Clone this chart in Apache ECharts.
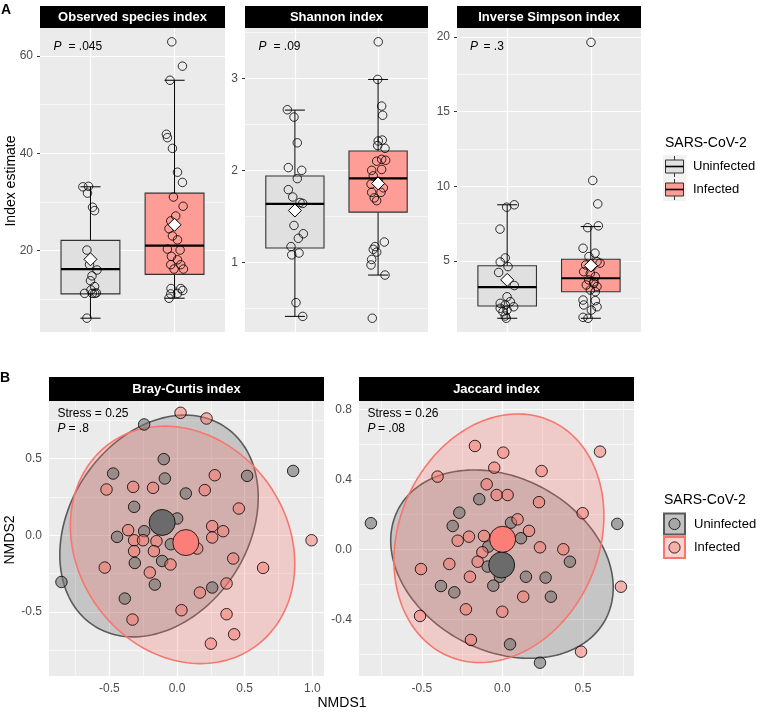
<!DOCTYPE html>
<html>
<head>
<meta charset="utf-8">
<script src="https://cdn.jsdelivr.net/npm/echarts@6/dist/echarts.min.js"></script>
<style>html,body{margin:0;padding:0;background:#ffffff;}#chart{width:757px;height:713px;}</style>
</head>
<body>
<div id="chart"></div>
<script>
// ================= DATA =================
const groupNames = ['Uninfected', 'Infected'];
const legendTitle = 'SARS-CoV-2';
const alphaTitles = ['Observed species index', 'Shannon index', 'Inverse Simpson index'];
const alphaP = ['.045', '.09', '.3'];
const betaTitles = ['Bray-Curtis index', 'Jaccard index'];
const betaStress = ['0.25', '0.26'];
const betaP = ['.8', '.08'];

// axis ranges and ticks (panel A)
const groupXRange = [0.4, 2.6];
const groupX = [1, 2];
const obsRange = [3.26, 65.74];
const obsTicks = [20, 40, 60];
const obsMinor = [10, 30, 50];
const shanRange = [0.24, 3.55];
const shanTicks = [1, 2, 3];
const shanMinor = [0.5, 1.5, 2.5, 3.5];
const invRange = [0.24, 20.6];
const invTicks = [5, 10, 15, 20];
const invMinor = [2.5, 7.5, 12.5, 17.5];

// box stats: [x, lower whisker, Q1, median, Q3, upper whisker]
const obsBox = [[1, 6.1, 11.1, 16.2, 22.1, 33.1], [2, 10.2, 15.1, 21.0, 31.8, 55.0]];
const shanBox = [[1, 0.41, 1.155, 1.636, 1.938, 2.656], [2, 0.86, 1.545, 1.913, 2.211, 2.99]];
const invBox = [[1, 1.16, 1.98, 3.24, 4.68, 8.76], [2, 1.16, 2.94, 3.84, 5.11, 7.30]];
// group means
const obsMean = [[1, 18.2], [2, 25.3]];
const shanMean = [[1, 1.563], [2, 1.858]];
const invMean = [[1, 3.73], [2, 4.69]];

// jittered sample points [x, value]
const obsUninf = [[0.91,33.1],[0.977,33.2],[0.965,31.8],[1.025,28.9],[1.049,28.2],[0.958,20.1],[0.989,17.1],[1.078,16.0],[1.018,14.8],[1.0,13.8],[1.049,12.6],[1.006,11.9],[0.93,11.2],[1.022,11.2],[1.051,11.2],[1.07,11.3],[0.958,6.1]];
const obsInf = [[1.967,62.9],[2.094,57.9],[1.946,55.0],[1.903,43.9],[1.915,43.2],[1.975,41.0],[2.035,36.1],[2.094,34.0],[1.987,31.0],[2.102,29.1],[2.014,27.1],[1.955,26.1],[1.934,24.5],[1.975,23.0],[2.035,22.2],[1.915,20.3],[2.066,20.1],[1.963,18.8],[2.035,18.1],[1.955,17.1],[2.074,17.1],[2.106,16.2],[1.994,16.2],[1.958,12.2],[2.074,12.2],[2.098,11.8],[2.035,11.2],[1.955,11.1],[1.934,10.2]];
const shanUninf = [[0.909,2.66],[0.989,2.58],[1.029,2.30],[0.921,2.03],[1.082,2.00],[1.029,1.91],[0.921,1.79],[0.974,1.71],[1.061,1.65],[1.094,1.64],[0.989,1.40],[1.101,1.31],[1.041,1.26],[0.953,1.17],[0.962,1.08],[1.049,1.10],[1.013,0.56],[1.094,0.41]];
const shanInf = [[2.002,3.40],[1.995,2.99],[2.043,2.70],[2.055,2.60],[2.002,2.32],[2.05,2.33],[2.083,2.24],[1.995,2.27],[2.043,2.12],[2.091,2.11],[1.983,2.10],[1.923,2.00],[2.043,2.01],[1.942,1.94],[1.915,1.85],[2.035,1.76],[1.923,1.76],[1.983,1.67],[2.063,1.81],[2.002,1.88],[1.954,1.70],[2.075,1.22],[1.963,1.17],[1.942,1.14],[1.983,1.11],[1.923,1.03],[1.915,0.97],[2.083,0.86],[1.93,0.39]];
const invUninf = [[0.994,8.60],[1.085,8.76],[0.914,7.13],[0.977,5.20],[0.917,4.93],[1.01,4.62],[0.898,4.23],[1.085,3.35],[0.998,2.60],[1.037,2.27],[0.917,2.16],[0.977,2.05],[1.078,1.93],[0.917,1.83],[0.998,1.71],[0.95,1.60],[0.977,1.31],[0.989,1.16]];
const invInf = [[2.002,19.64],[2.023,10.39],[2.083,8.82],[2.09,7.35],[1.963,7.23],[1.907,5.85],[2.05,5.52],[1.978,5.29],[2.074,4.95],[1.939,4.73],[2.014,4.62],[2.11,4.85],[1.915,4.28],[1.994,4.17],[2.054,3.95],[1.975,3.73],[2.035,3.50],[1.946,3.39],[2.074,3.28],[1.994,3.05],[2.054,2.94],[1.907,2.38],[2.054,2.34],[1.915,2.05],[2.074,1.93],[2.006,1.71],[1.907,1.22],[1.967,1.16],[2.038,3.60]];

// panel B axes
const bcXRange = [-0.946, 1.086];
const bcYRange = [-0.918, 0.875];
const bcXTicks = [-0.5, 0, 0.5, 1.0];
const bcXMinor = [-0.75, -0.25, 0.25, 0.75];
const bcYTicks = [-0.5, 0, 0.5];
const bcYMinor = [-0.75, -0.25, 0.25, 0.75];
const jacXRange = [-0.891, 0.817];
const jacYRange = [-0.724, 0.847];
const jacXTicks = [-0.5, 0, 0.5];
const jacXMinor = [-0.75, -0.25, 0.25, 0.75];
const jacYTicks = [-0.4, 0, 0.4, 0.8];
const jacYMinor = [-0.6, -0.2, 0.2, 0.6];

// NMDS scores [NMDS1, NMDS2]
const bcUninf = [[-0.243,0.722],[-0.098,0.496],[-0.472,0.402],[0.518,0.387],[0.858,0.419],[-0.09,0.37],[0.065,0.272],[-0.317,0.185],[0.001,0.109],[-0.243,0.026],[-0.443,-0.011],[-0.046,-0.059],[-0.11,-0.168],[-0.312,-0.181],[-0.854,-0.305],[-0.164,-0.322],[0.26,-0.341],[-0.386,-0.413]];
const bcInf = [[0.026,0.798],[0.218,0.761],[0.279,0.391],[-0.521,0.298],[-0.324,0.315],[-0.177,0.309],[0.205,0.294],[0.457,0.174],[0.994,-0.033],[-0.361,0.033],[0.26,0.059],[0.341,0.026],[0.26,-0.015],[-0.317,-0.033],[-0.251,-0.033],[-0.152,-0.039],[0.149,-0.087],[-0.317,-0.104],[-0.171,-0.104],[-0.048,-0.191],[-0.534,-0.211],[-0.201,-0.243],[0.415,-0.152],[0.636,-0.213],[0.366,-0.315],[0.169,-0.374],[0.033,-0.489],[0.366,-0.515],[-0.329,-0.55],[0.422,-0.646],[0.25,-0.707]];
const bcCentroids = [[-0.11, 0.083], [0.065, -0.048]];
const jacUninf = [[-0.144,0.286],[-0.817,0.149],[-0.268,0.209],[-0.309,0.133],[0.053,0.152],[0.115,0.063],[0.713,0.145],[-0.088,0.015],[0.419,-0.071],[-0.092,-0.099],[-0.016,-0.157],[0.146,-0.157],[0.268,-0.162],[-0.382,-0.21],[-0.299,-0.246],[-0.057,-0.208],[0.301,-0.271],[0.047,-0.543],[0.233,-0.648]];
const jacInf = [[-0.171,0.59],[0.005,0.552],[0.606,0.558],[-0.051,0.466],[0.243,0.447],[-0.403,0.415],[-0.098,0.371],[-0.036,0.31],[0.032,0.31],[0.227,0.269],[0.094,0.171],[0.165,0.105],[0.498,0.206],[-0.278,0.049],[-0.208,0.072],[-0.115,0.076],[0.233,0.011],[0.378,0.0],[-0.125,-0.017],[-0.154,-0.071],[-0.33,-0.084],[-0.506,-0.113],[-0.202,-0.157],[0.129,-0.271],[0.736,-0.214],[-0.512,-0.381],[-0.227,-0.343],[-0.001,-0.357],[-0.196,-0.518],[0.488,-0.585]];
const jacCentroids = [[-0.005, -0.09], [0.001, 0.057]];

// ellipses: [centre x, centre y, half-width x, half-height y, correlation]
const bcEllipses = [[-0.133, 0.06, 0.733, 0.723, 0.26], [0.041, -0.063, 0.829, 0.774, -0.16]];
const jacEllipses = [[-0.003, -0.085, 0.691, 0.538, -0.25], [-0.022, 0.063, 0.652, 0.71, 0.18]];

// ================= STYLE =================
const FONT = "'Liberation Sans', Arial, Helvetica, sans-serif";
const PANEL_BG = '#ebebeb';
const boxFills = ['#e0e0e0', '#fe9c96'];
const ellFill = ['rgba(85,85,85,0.25)', 'rgba(248,118,109,0.27)'];
const ellStroke = ['#5a5a5a', '#f8766d'];
const ptFill = ['rgba(115,115,115,0.6)', 'rgba(248,118,109,0.5)'];
const centFill = ['#6b6b6b', '#fb7f78'];

const gridsA = [
  {left: 40, top: 28, width: 185, height: 304},
  {left: 245, top: 28, width: 183, height: 304},
  {left: 457, top: 28, width: 184, height: 304}
];
const gridsB = [
  {left: 49, top: 401, width: 275, height: 275},
  {left: 359, top: 401, width: 275, height: 275}
];
const allGrids = gridsA.concat(gridsB).map(g => Object.assign({show: true, backgroundColor: PANEL_BG, borderWidth: 0, containLabel: false, z: 0}, g));

function valueAxis(gridIndex, range, ticks, showLabels, fmt) {
  return {
    type: 'value', gridIndex, min: range[0], max: range[1],
    axisLine: {show: false},
    axisTick: {show: showLabels, customValues: ticks, length: 3, lineStyle: {color: '#333333', width: 1}},
    axisLabel: {show: showLabels, customValues: ticks, formatter: fmt, color: '#4d4d4d', fontSize: 12, fontFamily: FONT, margin: 7},
    splitLine: {show: false}, minorTick: {show: false}, minorSplitLine: {show: false}
  };
}
const intFmt = v => String(v);
const decFmt = v => v.toFixed(1);

const xAxes = [
  valueAxis(0, groupXRange, groupX, false, intFmt),
  valueAxis(1, groupXRange, groupX, false, intFmt),
  valueAxis(2, groupXRange, groupX, false, intFmt),
  valueAxis(3, bcXRange, bcXTicks, true, decFmt),
  valueAxis(4, jacXRange, jacXTicks, true, decFmt)
];
const yAxes = [
  valueAxis(0, obsRange, obsTicks, true, intFmt),
  valueAxis(1, shanRange, shanTicks, true, intFmt),
  valueAxis(2, invRange, invTicks, true, intFmt),
  valueAxis(3, bcYRange, bcYTicks, true, decFmt),
  valueAxis(4, jacYRange, jacYTicks, true, decFmt)
];

// panel grid lines (white major / thin minor), drawn as markLines on the axes' own scales, below the marks
function gridLineSeries(ai, xMaj, xMin, yMaj, yMin) {
  const d = [];
  xMin.forEach(v => d.push({xAxis: v, lineStyle: {width: 0.6}}));
  yMin.forEach(v => d.push({yAxis: v, lineStyle: {width: 0.6}}));
  xMaj.forEach(v => d.push({xAxis: v, lineStyle: {width: 1.2}}));
  yMaj.forEach(v => d.push({yAxis: v, lineStyle: {width: 1.2}}));
  return {type: 'scatter', xAxisIndex: ai, yAxisIndex: ai, data: [], z: 1, silent: true,
    markLine: {z: 1, silent: true, symbol: ['none', 'none'], animation: false, precision: 6,
      label: {show: false}, emphasis: {disabled: true},
      lineStyle: {color: '#ffffff', type: 'solid', width: 1.2, opacity: 1}, data: d}};
}

const BOX_HALF = 0.35, CAP_HALF = 0.12;
function boxRender(params, api) {
  const x = api.value(0), lo = api.value(1), q1 = api.value(2), md = api.value(3), q3 = api.value(4), hi = api.value(5);
  const pLo = api.coord([x, lo]), pHi = api.coord([x, hi]);
  const c1 = api.coord([x - CAP_HALF, lo]), c2 = api.coord([x + CAP_HALF, lo]);
  const c3 = api.coord([x - CAP_HALF, hi]), c4 = api.coord([x + CAP_HALF, hi]);
  const tl = api.coord([x - BOX_HALF, q3]), br = api.coord([x + BOX_HALF, q1]);
  const m1 = api.coord([x - BOX_HALF, md]), m2 = api.coord([x + BOX_HALF, md]);
  const ls = {stroke: '#000', lineWidth: 1};
  return {type: 'group', children: [
    {type: 'line', shape: {x1: pLo[0], y1: pLo[1], x2: pHi[0], y2: pHi[1]}, style: ls},
    {type: 'line', shape: {x1: c1[0], y1: c1[1], x2: c2[0], y2: c2[1]}, style: ls},
    {type: 'line', shape: {x1: c3[0], y1: c3[1], x2: c4[0], y2: c4[1]}, style: ls},
    {type: 'rect', shape: {x: tl[0], y: tl[1], width: br[0] - tl[0], height: br[1] - tl[1]}, style: {fill: boxFills[params.dataIndex], stroke: '#333333', lineWidth: 1.1}},
    {type: 'line', shape: {x1: m1[0], y1: m1[1], x2: m2[0], y2: m2[1]}, style: {stroke: '#000', lineWidth: 2.2}}
  ]};
}
function ellRender(params, api) {
  const cx = api.value(0), cy = api.value(1), W = api.value(2), H = api.value(3), r = api.value(4);
  const d = Math.acos(r);
  const pts = [];
  for (let i = 0; i < 160; i++) {
    const t = i / 160 * Math.PI * 2;
    pts.push(api.coord([cx + W * Math.cos(t), cy + H * Math.cos(t - d)]));
  }
  return {type: 'polygon', shape: {points: pts}, style: {fill: ellFill[params.dataIndex], stroke: ellStroke[params.dataIndex], lineWidth: 1.6}};
}

const series = [];
series.push(gridLineSeries(0, groupX, [], obsTicks, obsMinor));
series.push(gridLineSeries(1, groupX, [], shanTicks, shanMinor));
series.push(gridLineSeries(2, groupX, [], invTicks, invMinor));
series.push(gridLineSeries(3, bcXTicks, bcXMinor, bcYTicks, bcYMinor));
series.push(gridLineSeries(4, jacXTicks, jacXMinor, jacYTicks, jacYMinor));

const panelsA = [
  {box: obsBox, mean: obsMean, pts: [obsUninf, obsInf]},
  {box: shanBox, mean: shanMean, pts: [shanUninf, shanInf]},
  {box: invBox, mean: invMean, pts: [invUninf, invInf]}
];
panelsA.forEach((p, i) => {
  series.push({type: 'custom', xAxisIndex: i, yAxisIndex: i, renderItem: boxRender, data: p.box,
    dimensions: ['x', 'lo', 'q1', 'md', 'q3', 'hi'], encode: {x: 0, y: [1, 2, 3, 4, 5]}, z: 2, silent: true});
  p.pts.forEach((pts) => {
    series.push({type: 'scatter', xAxisIndex: i, yAxisIndex: i, data: pts, symbol: 'circle', symbolSize: 8.5,
      itemStyle: {color: 'rgba(0,0,0,0)', borderColor: '#000', borderWidth: 0.8, opacity: 1}, z: 3, silent: true});
  });
  series.push({type: 'scatter', xAxisIndex: i, yAxisIndex: i, data: p.mean, symbol: 'diamond', symbolSize: 13,
    itemStyle: {color: '#ffffff', borderColor: '#000', borderWidth: 1, opacity: 1}, z: 4, silent: true});
});
const panelsB = [
  {ell: bcEllipses, pts: [bcUninf, bcInf], cent: bcCentroids},
  {ell: jacEllipses, pts: [jacUninf, jacInf], cent: jacCentroids}
];
panelsB.forEach((p, j) => {
  const ai = 3 + j;
  series.push({type: 'custom', xAxisIndex: ai, yAxisIndex: ai, renderItem: ellRender, data: p.ell,
    dimensions: ['cx', 'cy', 'w', 'h', 'r'], encode: {x: 0, y: 1}, z: 2, silent: true});
  p.pts.forEach((pts, g) => {
    series.push({type: 'scatter', xAxisIndex: ai, yAxisIndex: ai, data: pts, symbol: 'circle', symbolSize: 11.5,
      itemStyle: {color: ptFill[g], borderColor: '#000', borderWidth: 0.8, opacity: 1}, z: 3, silent: true});
  });
  p.cent.forEach((c, g) => {
    series.push({type: 'scatter', xAxisIndex: ai, yAxisIndex: ai, data: [c], symbol: 'circle', symbolSize: 26,
      itemStyle: {color: centFill[g], borderColor: '#000', borderWidth: 0.8, opacity: 1}, z: 4, silent: true});
  });
});

// ================= ANNOTATIONS / LEGENDS =================
function txt(x, y, text, o) {
  const s = Object.assign({text: text, fill: '#000', fontSize: 12, fontFamily: FONT, fontWeight: 'normal', fontStyle: 'normal',
    align: 'left', verticalAlign: 'middle'}, o || {});
  s.textAlign = s.align; s.textVerticalAlign = s.verticalAlign;
  return {type: 'text', x: x, y: y, z: 100, silent: true, style: s};
}
const g = [];
gridsA.forEach((gr, i) => {
  g.push({type: 'rect', z: 100, silent: true, shape: {x: gr.left, y: 6, width: gr.width, height: 22}, style: {fill: '#000'}});
  g.push(txt(gr.left + gr.width / 2, 17.5, alphaTitles[i], {fill: '#fff', fontWeight: 'bold', fontSize: 13, align: 'center'}));
});
gridsB.forEach((gr, i) => {
  g.push({type: 'rect', z: 100, silent: true, shape: {x: gr.left, y: 377, width: gr.width, height: 24}, style: {fill: '#000'}});
  g.push(txt(gr.left + gr.width / 2, 389.5, betaTitles[i], {fill: '#fff', fontWeight: 'bold', fontSize: 13, align: 'center'}));
});
const pPosA = [[53.5, 68.5, 47], [258.5, 273.5, 46.5], [470, 483.5, 47]];
pPosA.forEach((p, i) => {
  g.push(txt(p[0], p[2], 'P', {fontStyle: 'italic'}));
  g.push(txt(p[1], p[2], '= ' + alphaP[i]));
});
const sPosB = [[57.5, 68.5], [367.5, 378]];
sPosB.forEach((p, i) => {
  g.push(txt(p[0], 413.5, 'Stress = ' + betaStress[i]));
  g.push(txt(p[0], 428.5, 'P', {fontStyle: 'italic'}));
  g.push(txt(p[1], 428.5, '= ' + betaP[i]));
});
g.push(Object.assign(txt(11, 181, 'Index estimate', {fontSize: 14, align: 'center'}), {rotation: Math.PI / 2}));
g.push(Object.assign(txt(10, 540, 'NMDS2', {fontSize: 14, align: 'center'}), {rotation: Math.PI / 2}));
g.push(txt(342, 703, 'NMDS1', {fontSize: 14, align: 'center'}));
g.push(txt(1, 10, 'A', {fontSize: 14, fontWeight: 'bold'}));
g.push(txt(0, 378.5, 'B', {fontSize: 14, fontWeight: 'bold'}));
// legend A
g.push(txt(665, 143, legendTitle, {fontSize: 14}));
[0, 1].forEach(k => {
  const y0 = 155 + k * 23;
  g.push({type: 'rect', z: 100, silent: true, shape: {x: 663, y: y0, width: 23, height: 23}, style: {fill: '#f2f2f2'}});
  g.push({type: 'line', z: 101, silent: true, shape: {x1: 674.5, y1: y0 + 1, x2: 674.5, y2: y0 + 22}, style: {stroke: '#333', lineWidth: 1}});
  g.push({type: 'rect', z: 102, silent: true, shape: {x: 665.5, y: y0 + 5, width: 18, height: 13}, style: {fill: boxFills[k], stroke: '#333', lineWidth: 1}});
  g.push({type: 'line', z: 103, silent: true, shape: {x1: 665.5, y1: y0 + 11.5, x2: 683.5, y2: y0 + 11.5}, style: {stroke: '#000', lineWidth: 1.6}});
  g.push(txt(693, y0 + 11.5, groupNames[k], {fontSize: 13}));
});
// legend B
g.push(txt(664, 500, legendTitle, {fontSize: 14}));
const keyBFill = ['#c3c3c3', '#f8d3d0'];
const keyBDot = ['#a6a6a6', '#f5afa9'];
[0, 1].forEach(k => {
  const y0 = 513.5 + k * 23.5;
  g.push({type: 'rect', z: 100, silent: true, shape: {x: 664, y: y0, width: 21, height: 21}, style: {fill: keyBFill[k], stroke: ellStroke[k], lineWidth: 2}});
  g.push({type: 'circle', z: 101, silent: true, shape: {cx: 674.5, cy: y0 + 10.5, r: 5.6}, style: {fill: keyBDot[k], stroke: '#000', lineWidth: 0.8}});
  g.push(txt(694, y0 + 10.5, groupNames[k], {fontSize: 13}));
});

const option = {
  animation: false,
  backgroundColor: '#ffffff',
  textStyle: {fontFamily: FONT},
  grid: allGrids,
  xAxis: xAxes,
  yAxis: yAxes,
  series: series,
  graphic: {elements: g}
};
const chart = echarts.init(document.getElementById('chart'), null, {renderer: 'canvas', width: 757, height: 713});
chart.setOption(option);
</script>
</body>
</html>
